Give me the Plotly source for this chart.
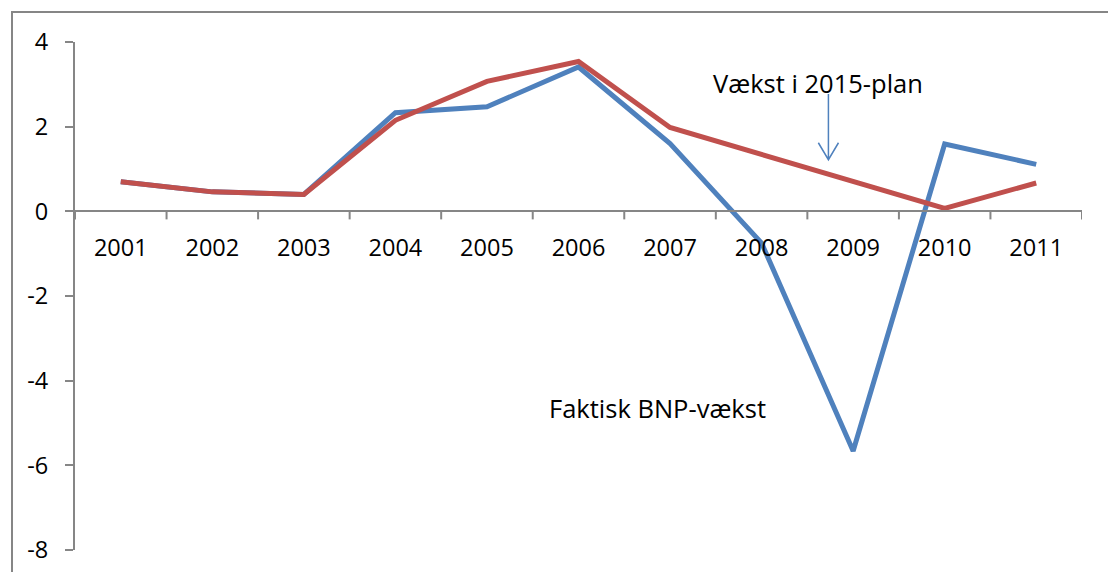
import plotly.graph_objects as go

years = ["2001", "2002", "2003", "2004", "2005", "2006", "2007", "2008", "2009", "2010", "2011"]
faktisk = [0.70, 0.46, 0.40, 2.33, 2.47, 3.41, 1.60, -0.75, -5.66, 1.59, 1.11]
plan_2015 = [0.70, 0.46, 0.40, 2.15, 3.07, 3.54, 1.98, 1.35, 0.70, 0.07, 0.67]

y_ticks = [-8, -6, -4, -2, 0, 2, 4]
y_labels = ["-8", "-6", "-4", "-2", "0", "2", "4"]

FONT = "Open Sans, Liberation Sans, sans-serif"
GREY = "#868686"

fig = go.Figure()
fig.add_trace(go.Scatter(x=list(range(len(years))), y=faktisk, mode="lines",
                         line=dict(color="#4F81BD", width=5), name="Faktisk BNP-vækst"))
fig.add_trace(go.Scatter(x=list(range(len(years))), y=plan_2015, mode="lines",
                         line=dict(color="#C0504D", width=5), name="Vækst i 2015-plan"))

fig.update_layout(
    width=1108, height=572,
    margin=dict(l=75, r=26, t=42, b=22),
    paper_bgcolor="white", plot_bgcolor="white",
    showlegend=False,
    font=dict(family=FONT, size=23.5, color="black"),
)

# category axis sitting on y = 0
fig.update_xaxes(
    range=[-0.5, len(years) - 0.5],
    tickmode="array", tickvals=list(range(len(years))), ticktext=years,
    anchor="free", position=8 / 12,
    showline=True, linecolor=GREY, linewidth=2,
    ticks="", showgrid=False, zeroline=False,
    ticklabelstandoff=15, automargin=False,
)
fig.update_yaxes(
    range=[-8, 4], tickvals=y_ticks, ticktext=y_labels,
    showline=True, linecolor=GREY, linewidth=2,
    ticks="outside", ticklen=8, tickcolor=GREY, tickwidth=2,
    showgrid=False, zeroline=False,
    ticklabelstandoff=12, automargin=False,
)

# category boundary ticks below the x axis line
for i in range(len(years) + 1):
    fig.add_shape(type="line", xref="x", yref="y", x0=i - 0.5, x1=i - 0.5, y0=0, y1=-0.19,
                  line=dict(color=GREY, width=2))

# outer chart frame (cropped at right and bottom)
fig.add_shape(type="rect", xref="paper", yref="paper",
              x0=(12 - 75) / 1007, x1=1.2, y0=-0.2, y1=1 + 30 / 508,
              line=dict(color=GREY, width=2), layer="below")

fig.add_annotation(x=7.62, y=3.03, xref="x", yref="y", text="Vækst i 2015-plan",
                   showarrow=False, font=dict(size=25.5))
fig.add_annotation(x=5.86, y=-4.65, xref="x", yref="y", text="Faktisk BNP-vækst",
                   showarrow=False, font=dict(size=25.5))

# thin arrow with open head
fig.add_shape(type="path", xref="x", yref="y",
              path="M 7.73 2.77 L 7.73 1.22 M 7.62 1.62 L 7.73 1.22 L 7.84 1.62",
              line=dict(color="#4F81BD", width=1.5))

# drop the default page margin so the figure sits at the window corner
fig.write_html("out.html", config={"displayModeBar": False},
               post_script="document.body.style.margin='0';")
